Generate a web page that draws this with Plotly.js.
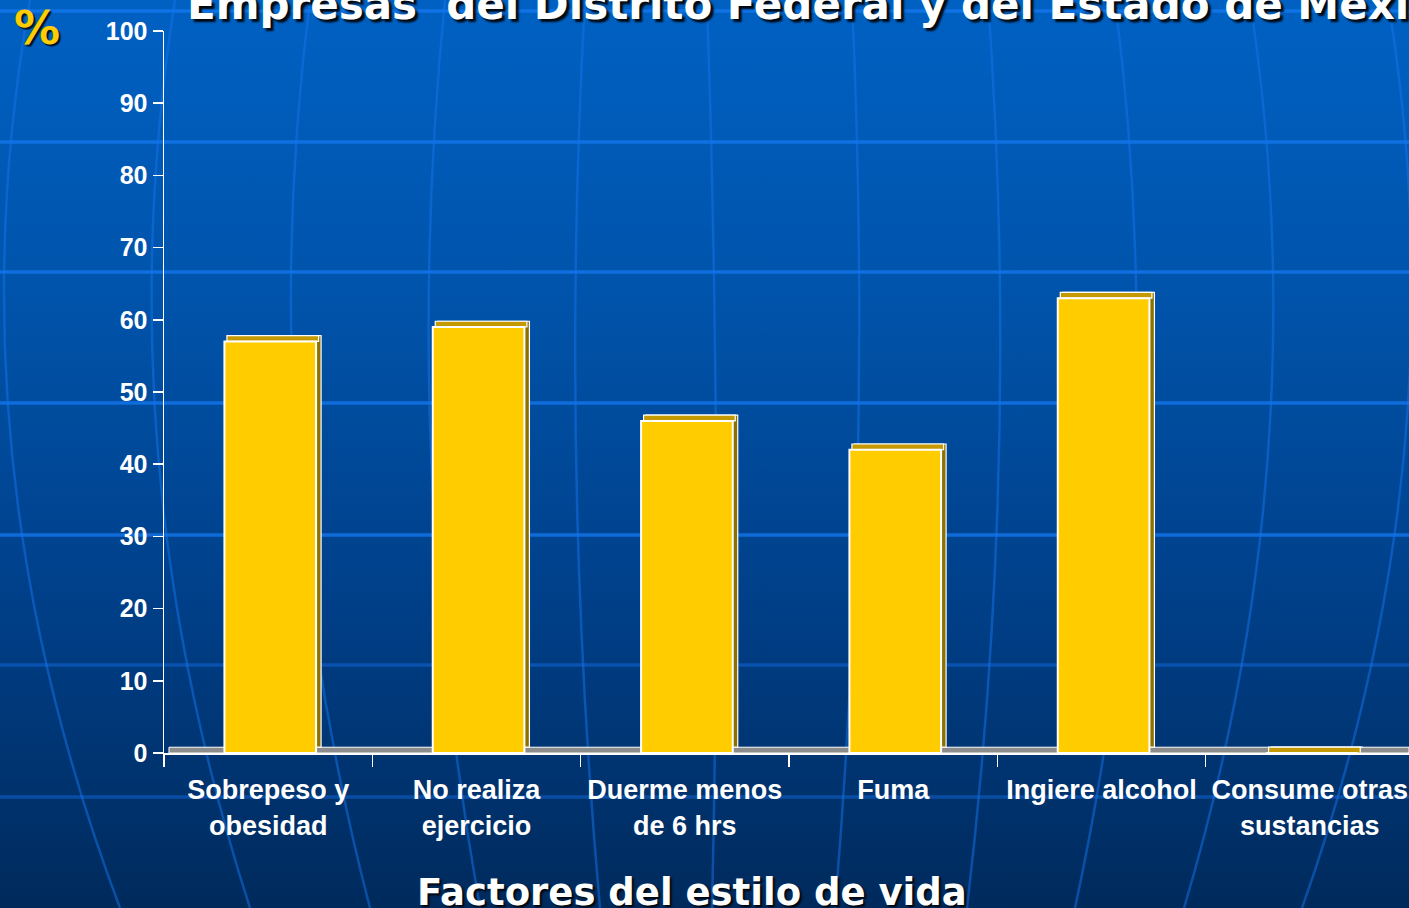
<!DOCTYPE html>
<html>
<head>
<meta charset="utf-8">
<script src="https://cdn.plot.ly/plotly-3.0.1.min.js"></script>
<style>
  html, body { margin: 0; padding: 0; width: 1409px; height: 908px; overflow: hidden; }
  #wrap { position: relative; width: 1409px; height: 908px;
    background: linear-gradient(to bottom, #0061C3 0%, #0052A8 35%, #00408A 65%, #002A5C 100%); }
  #bg { position: absolute; left: 0; top: 0; }
  #chart { position: absolute; left: 0; top: 0; width: 1409px; height: 908px; }
</style>
</head>
<body>
<div id="wrap">
  <svg id="bg" width="1409" height="908"></svg>
  <div id="chart"></div>
</div>
<script>
// ---- data ----
const categories = ["Sobrepeso y<br>obesidad", "No realiza<br>ejercicio", "Duerme menos<br>de 6 hrs", "Fuma", "Ingiere alcohol", "Consume otras<br>sustancias"];
const values = [57, 59, 46, 42, 63, 0];
const yTickVals = [0, 10, 20, 30, 40, 50, 60, 70, 80, 90, 100];
const titleText = "Empresas  del Distrito Federal y del Estado de México";
const xTitleText = "Factores del estilo de vida";
const yUnitText = "%";

// ---- decorative globe background ----
(function () {
  const svg = document.getElementById('bg');
  const ns = 'http://www.w3.org/2000/svg';
  const lat = [11, 142, 272, 403, 535, 665, 797];
  lat.forEach(function (y, i) {
    const l = document.createElementNS(ns, 'line');
    l.setAttribute('x1', 0); l.setAttribute('x2', 1409);
    l.setAttribute('y1', y); l.setAttribute('y2', y);
    l.setAttribute('stroke', i < 5 ? 'rgba(20,120,240,0.75)' : 'rgba(20,110,230,0.45)');
    l.setAttribute('stroke-width', 3.5);
    svg.appendChild(l);
  });
  // meridians: [x at top, x at mid, x at bottom]
  const mer = [[30, 12, 120], [175, 158, 250], [310, 296, 370], [445, 431, 480], [585, 576, 600],
               [707, 716, 712], [852, 858, 835], [988, 999, 967], [1115, 1134, 1075],
               [1250, 1268, 1184], [1388, 1404, 1302]];
  mer.forEach(function (m) {
    const c = 2 * m[1] - (m[0] + m[2]) / 2;
    const p = document.createElementNS(ns, 'path');
    p.setAttribute('d', 'M' + m[0] + ' 0 Q ' + c + ' 454 ' + m[2] + ' 908');
    p.setAttribute('fill', 'none');
    p.setAttribute('stroke', 'rgba(20,115,235,0.5)');
    p.setAttribute('stroke-width', 2.5);
    svg.appendChild(p);
  });
})();

// ---- chart ----
const frontW = 0.44, frontOff = -0.21;
const depthX = 0.024, depthY = 0.8;
const depthArr = values.map(function () { return depthY; });

const sideTrace = {
  type: 'bar', x: categories, y: values, base: depthArr,
  width: frontW, offset: frontOff + depthX,
  marker: { color: '#8C7000', line: { color: '#FFFFFF', width: 1.2 } },
  hoverinfo: 'skip', showlegend: false
};
const topTrace = {
  type: 'bar', x: categories, y: depthArr, base: values,
  width: frontW, offset: frontOff + depthX / 2,
  marker: { color: '#C49A00', line: { color: '#FFFFFF', width: 1.2 } },
  hoverinfo: 'skip', showlegend: false
};
const frontTrace = {
  type: 'bar', x: categories, y: values,
  width: frontW, offset: frontOff,
  marker: { color: '#FFCC00', line: { color: '#FFFFFF', width: 2 } },
  showlegend: false
};

const labelFont = 'Liberation Sans, Arial, sans-serif';

const layout = {
  width: 1409, height: 908,
  margin: { l: 164, r: 0, t: 31, b: 155, pad: 0 },
  paper_bgcolor: 'rgba(0,0,0,0)',
  plot_bgcolor: 'rgba(0,0,0,0)',
  barmode: 'overlay',
  title: {
    text: titleText,
    font: { family: 'DejaVu Sans', size: 42, color: '#FFFFFF', weight: 'bold', shadow: '3px 3px 2px rgba(0,0,0,0.9)' },
    xref: 'container', x: 187 / 1409, xanchor: 'left',
    yref: 'container', y: 1 - 4 / 908, yanchor: 'middle'
  },
  xaxis: {
    type: 'category',
    range: [-0.5, 5.476],
    showgrid: false, zeroline: false,
    showline: true, linecolor: '#FFFFFF', linewidth: 2,
    ticks: 'outside', tickson: 'boundaries', ticklen: 12, tickwidth: 1.5, tickcolor: '#FFFFFF',
    tickangle: 0, ticklabelstandoff: 12,
    tickfont: { family: labelFont, size: 27, color: '#FFFFFF', weight: 'bold' },
    fixedrange: true
  },
  yaxis: {
    range: [0, 100],
    tickvals: yTickVals,
    showgrid: false, zeroline: false,
    showline: true, linecolor: '#FFFFFF', linewidth: 1.5,
    ticks: 'outside', ticklen: 10, tickwidth: 1.5, tickcolor: '#FFFFFF',
    tickfont: { family: labelFont, size: 25, color: '#FFFFFF', weight: 'bold' },
    fixedrange: true
  },
  shapes: [{
    type: 'rect', layer: 'below',
    xref: 'paper', x0: 0.004, x1: 1,
    yref: 'y', y0: 0, y1: depthY,
    fillcolor: '#8C8C8C', line: { color: '#FFFFFF', width: 1 }
  }],
  annotations: [
    {
      text: xTitleText, showarrow: false,
      xref: 'paper', x: (691.5 - 164) / 1245, xanchor: 'center',
      yref: 'paper', y: -(892 - 753) / 722, yanchor: 'middle',
      font: { family: 'DejaVu Sans', size: 37, color: '#FFFFFF', weight: 'bold', shadow: '2px 2px 2px rgba(0,0,0,0.9)' }
    },
    {
      text: yUnitText, showarrow: false,
      xref: 'paper', x: (37 - 164) / 1245, xanchor: 'center',
      yref: 'paper', y: 1 + (31 - 28) / 722, yanchor: 'middle',
      font: { family: 'DejaVu Sans', size: 46, color: '#FFCC00', weight: 'bold', shadow: '2px 2px 1px rgba(0,0,0,0.8)' }
    }
  ]
};

Plotly.newPlot('chart', [sideTrace, topTrace, frontTrace], layout, { displayModeBar: false, staticPlot: true });
</script>
</body>
</html>
